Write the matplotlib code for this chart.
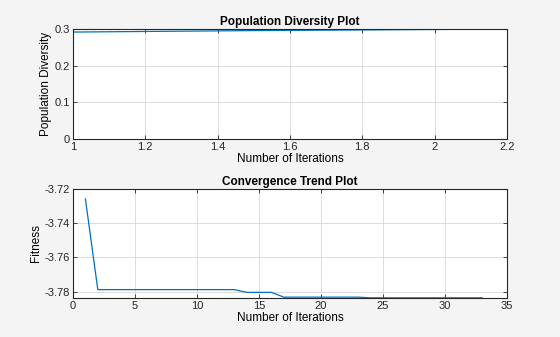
import numpy as np
import matplotlib
matplotlib.use("Agg")
import matplotlib.pyplot as plt

# diversity per iteration
div_iter = [1, 1.5, 2.16]
diversity = [0.293, 0.297, 0.301]

# best fitness per iteration
fit_iter = list(range(1, 34))
fitness = ([-3.7258] + [-3.7788] * 12 + [-3.7804] * 3 +
           [-3.7832] * 7 + [-3.7836] * 10)

plt.rcParams['font.family'] = ['Liberation Sans', 'DejaVu Sans']
plt.rcParams['font.size'] = 8

line_col = '#0072BD'
bg = '#f4f4f4'

fig = plt.figure(figsize=(5.6, 3.37), dpi=100, facecolor=bg)
ax1 = fig.add_axes([73/560, 1 - 139/337, (507-73)/560, (139-29.5)/337])
ax2 = fig.add_axes([73/560, 1 - 298/337, (507-73)/560, (298-189)/337])

def style(ax):
    ax.set_facecolor('white')
    ax.grid(True, color='#dcdcdc', linewidth=0.7)
    ax.set_axisbelow(True)
    ax.tick_params(direction='in', top=True, right=True, length=3,
                   width=0.6, colors='#262626', labelsize=8, pad=2)
    for s in ax.spines.values():
        s.set_color('#262626')
        s.set_linewidth(0.8)

ax1.plot(div_iter, diversity, color=line_col, linewidth=0.9)
ax1.set_xlim(1, 2.2)
ax1.set_ylim(0, 0.3)
ax1.set_xticks([1, 1.2, 1.4, 1.6, 1.8, 2, 2.2])
ax1.set_xticklabels(['1', '1.2', '1.4', '1.6', '1.8', '2', '2.2'])
ax1.set_yticks([0, 0.1, 0.2, 0.3])
ax1.set_yticklabels(['0', '0.1', '0.2', '0.3'])
ax1.set_title('Population Diversity Plot', fontweight='bold', fontsize=8.5, pad=3)
ax1.set_xlabel('Number of Iterations', fontsize=8.5, labelpad=1)
ax1.set_ylabel('Population Diversity', fontsize=8.5, labelpad=2)
style(ax1)

ax2.plot(fit_iter, fitness, color=line_col, linewidth=0.9)
ax2.set_xlim(0, 35)
ax2.set_ylim(-3.7837, -3.72)
ax2.set_xticks([0, 5, 10, 15, 20, 25, 30, 35])
ax2.set_yticks([-3.78, -3.76, -3.74, -3.72])
ax2.set_yticklabels(['-3.78', '-3.76', '-3.74', '-3.72'])
ax2.set_title('Convergence Trend Plot', fontweight='bold', fontsize=8.5, pad=3)
ax2.set_xlabel('Number of Iterations', fontsize=8.5, labelpad=1)
ax2.set_ylabel('Fitness', fontsize=8.5, labelpad=2)
style(ax2)

fig.savefig('out.png', dpi=100, facecolor=bg)
